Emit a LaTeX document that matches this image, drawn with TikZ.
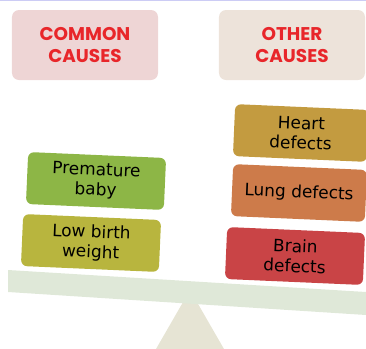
\documentclass[tikz,border=0pt]{standalone}
\usepackage{fontspec}
\setmainfont{DejaVu Sans}
\newfontfamily\headfont{Poppins}
\usetikzlibrary{positioning}

\definecolor{headred}{HTML}{E8262A}
\definecolor{commonbg}{HTML}{EED5D5}
\definecolor{otherbg}{HTML}{EDE3DA}
\definecolor{prembg}{HTML}{8DB646}
\definecolor{lowbg}{HTML}{B8B53E}
\definecolor{heartbg}{HTML}{C39B40}
\definecolor{lungbg}{HTML}{CD7B4A}
\definecolor{brainbg}{HTML}{C94446}
\definecolor{beamcol}{HTML}{DFE8D8}
\definecolor{fulcol}{HTML}{E6E4D4}

\begin{document}
\begin{tikzpicture}[x=1bp, y=-1bp,
    head/.style={rounded corners=7bp, minimum width=146bp, minimum height=70bp,
        align=center, text=headred, inner sep=0pt,
        font=\headfont\bfseries\fontsize{18.5}{22}\selectfont},
    cause/.style={rounded corners=6bp, minimum width=138bp, minimum height=52bp,
        align=center, text=black, inner sep=1bp, rotate=-2.5,
        font=\fontsize{17}{20}\selectfont},
    beam/.style={fill=beamcol},
    fulcrum/.style={fill=fulcol}]

\useasboundingbox (0,0) rectangle (366,349);
\draw[black!20!blue!20, line width=1bp] (0,0.5) -- (366,0.5);

% headings
\node[head, fill=commonbg] (common) at (85,45) {COMMON\\CAUSES};
\node[head, fill=otherbg] (other) at (292,45) {OTHER\\CAUSES};

% seesaw
\fill[fulcrum] (190,290) -- (224,349) -- (156,349) -- cycle;
\fill[beam] (8,270) -- (366,292) -- (366,315) -- (8,292) -- cycle;

% left pile
\node[cause, fill=prembg] (prem) at (96,181) {Premature\\baby};
\node[cause, fill=lowbg] (low) at (91,243) {Low birth\\weight};

% right pile
\node[cause, fill=heartbg, minimum width=134bp] (heart) at (301,133) {Heart\\defects};
\node[cause, fill=lungbg, minimum width=134bp] (lung) at (299,193) {Lung defects};
\node[cause, fill=brainbg] (brain) at (295,256) {Brain\\defects};
\end{tikzpicture}
\end{document}
